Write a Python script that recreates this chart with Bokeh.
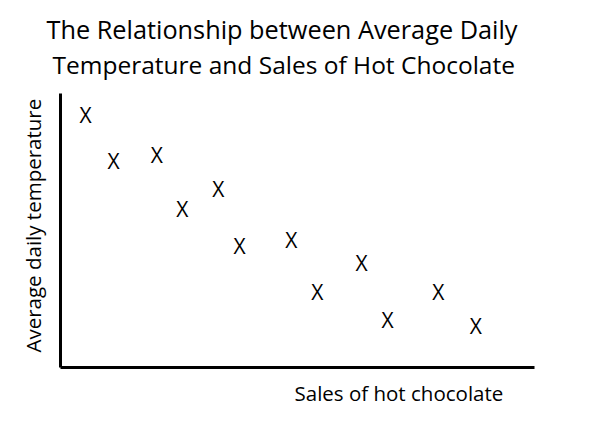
from bokeh.plotting import figure
from bokeh.models import Range1d, FixedTicker, ColumnDataSource, Title
from bokeh.core.properties import value
from bokeh.embed import file_html
from bokeh.resources import INLINE

# Data (arbitrary units 0-100)
sales = [5.3, 11.2, 20.3, 25.7, 33.3, 37.8, 48.7, 54.2, 63.5, 69.0, 79.7, 87.6]
temperature = [92.3, 75.2, 77.4, 58.0, 65.3, 44.2, 46.4, 27.7, 38.3, 17.5, 27.7, 15.0]
title_lines = ["The Relationship between Average Daily",
               "Temperature and Sales of Hot Chocolate"]
x_label = "Sales of hot chocolate"
y_label = "Average daily temperature"

FONT = "Open Sans"

p = figure(width=589, height=432, output_backend="svg", toolbar_location=None,
           x_range=Range1d(0, 100), y_range=Range1d(0, 100),
           min_border_left=60, min_border_right=55, min_border_top=93, min_border_bottom=65)
p.grid.visible = False
p.outline_line_color = None
p.background_fill_color = "white"
p.border_fill_color = "white"

for ax in (p.xaxis[0], p.yaxis[0]):
    ax.ticker = FixedTicker(ticks=[])
    ax.major_tick_line_color = None
    ax.minor_tick_line_color = None
    ax.major_label_text_font_size = "0px"
    ax.axis_line_color = "black"
    ax.axis_line_width = 3

src = ColumnDataSource(dict(x=sales, y=temperature, t=["X"] * len(sales)))
p.text(x="x", y="y", text="t", source=src, text_align="center", text_baseline="middle",
       text_font=value(FONT), text_font_size="21px", text_color="black")

# title (two lines): spacer next to the frame, then line 2, p.title (line 1) outermost
p.add_layout(Title(text=" ", text_font_size="1px", standoff=10), "above")
p.add_layout(Title(text=title_lines[1], align="left", offset=-8, text_font=FONT,
                   text_font_size="24.5px", text_font_style="normal", text_color="black",
                   standoff=0), "above")
p.title.text = title_lines[0]
p.title.align = "left"
p.title.offset = -14
p.title.text_font = FONT
p.title.text_font_size = "25.3px"
p.title.text_font_style = "normal"
p.title.text_color = "black"
p.title.standoff = 0

# axis titles
p.add_layout(Title(text=x_label, align="left", offset=234, text_font=FONT,
                   text_font_size="20.5px", text_font_style="normal", text_color="black",
                   standoff=18), "below")
p.add_layout(Title(text=y_label, align="left", offset=15, text_font=FONT,
                   text_font_size="20.5px", text_font_style="normal", text_color="black",
                   standoff=28), "left")

open("out.html", "w").write(file_html(p, INLINE))
